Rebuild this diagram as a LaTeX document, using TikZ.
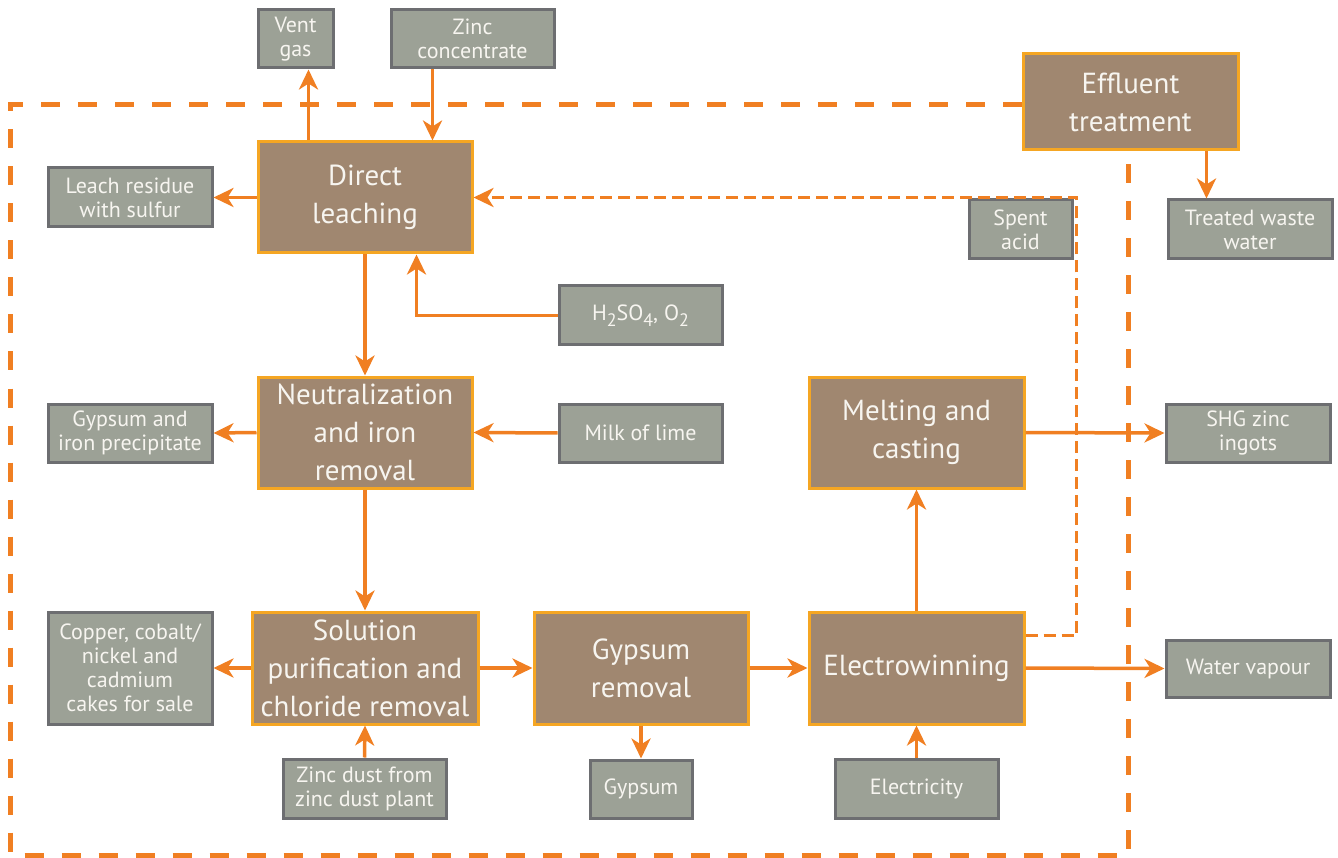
\documentclass[tikz,border=0pt]{standalone}
\usepackage{fontspec}
\setmainfont{PT Sans}
\usetikzlibrary{arrows.meta,calc}
\definecolor{orng}{HTML}{F07F22}
\definecolor{brn}{HTML}{A08770}
\definecolor{brnb}{HTML}{F5A623}
\definecolor{gfill}{HTML}{9CA196}
\definecolor{gbord}{HTML}{6D6E71}
\definecolor{txt}{HTML}{F7F5F0}
\newcommand{\lowsub}[1]{\raisebox{-6pt}{\fontsize{18}{18}\selectfont #1}}
\tikzset{
  gbox/.style={draw=gbord, fill=gfill, line width=3pt, inner sep=0pt, align=center,
    text=txt, font=\fontsize{22}{24}\selectfont},
  bbox/.style={draw=brnb, fill=brn, line width=3pt, inner sep=0pt, align=center,
    text=txt, font=\fontsize{29}{38}\selectfont},
  arr/.style={draw=orng, line width=3.5pt, -{Stealth[length=20pt,width=19pt,inset=6pt]}},
  bound/.style={draw=orng, line width=5pt, dash pattern=on 19pt off 18pt},
  spent/.style={draw=orng, line width=3.5pt, dash pattern=on 12pt off 6pt,
    -{Stealth[length=20pt,width=19pt,inset=6pt]}}
}
\begin{document}
\begin{tikzpicture}[x=1pt,y=-1pt]
\useasboundingbox (0,0) rectangle (1338,858);
% main process boxes
\node[bbox, minimum width=214pt, minimum height=111pt] (dl) at (365,197.5) {Direct\\leaching};
\node[bbox, minimum width=214pt, minimum height=111pt] (nr) at (365,432.5) {Neutralization\\and iron\\removal};
\node[bbox, minimum width=226pt, minimum height=112pt] (sp) at (365,668) {Solution\\purification and\\chloride removal};
\node[bbox, minimum width=214pt, minimum height=112pt] (gr) at (641,668) {Gypsum\\removal};
\node[bbox, minimum width=215pt, minimum height=112pt] (ew) at (916.5,668) {Electrowinning};
\node[bbox, minimum width=215pt, minimum height=111pt] (mc) at (916.5,432.5) {Melting and\\casting};
\node[bbox, minimum width=215pt, minimum height=96pt] (et) at (1130.5,102) {Effluent\\treatment};
% input / output boxes
\node[gbox, minimum width=75pt, minimum height=58pt] (vent) at (295.5,39) {Vent\\gas};
\node[gbox, minimum width=163pt, minimum height=58pt] (zc) at (472.5,39) {Zinc\\concentrate};
\node[gbox, minimum width=164pt, minimum height=59pt] (lr) at (130,197.5) {Leach residue\\with sulfur};
\node[gbox, minimum width=163pt, minimum height=59pt] (hs) at (640.5,315.5) {H\lowsub{2}SO\lowsub{4}, O\lowsub{2}};
\node[gbox, minimum width=164pt, minimum height=58pt] (gi) at (130,433) {Gypsum and\\iron precipitate};
\node[gbox, minimum width=163pt, minimum height=58pt] (ml) at (640.5,433) {Milk of lime};
\node[gbox, minimum width=103pt, minimum height=59pt] (sa) at (1020.5,229.5) {Spent\\acid};
\node[gbox, minimum width=164pt, minimum height=59pt] (tw) at (1250,229.5) {Treated waste\\water};
\node[gbox, minimum width=164pt, minimum height=58pt] (shg) at (1248,433) {SHG zinc\\ingots};
\node[gbox, minimum width=164pt, minimum height=112pt] (cu) at (130,668) {Copper, cobalt/\\nickel and\\cadmium\\cakes for sale};
\node[gbox, minimum width=163pt, minimum height=59pt] (zd) at (364.5,788.5) {Zinc dust from\\zinc dust plant};
\node[gbox, minimum width=102pt, minimum height=58pt] (gy) at (641,789) {Gypsum};
\node[gbox, minimum width=163pt, minimum height=59pt] (el) at (916.5,788.5) {Electricity};
\node[gbox, minimum width=164pt, minimum height=57pt] (wv) at (1248,668.5) {Water vapour};
% boundary
\coordinate (bl) at (10,855);
\coordinate (bt) at ([yshift=-3pt]et.west);
\coordinate (br) at ([xshift=-2pt]et.south);
\draw[bound] (bt) -| (bl) -| (br);
% helper coordinates
\coordinate (vx) at ([xshift=52pt]dl.north west);
\coordinate (zx) at ([xshift=-41pt]dl.north east);
\coordinate (hx) at ([xshift=160pt]dl.south west);
\coordinate (tx) at ([xshift=-33pt]et.south east);
\coordinate (ewo) at ([yshift=-25pt]ew.north east);
\coordinate (sax) at ([xshift=3pt]sa.east);
% connectors
\draw[arr] (vx) -- (vx |- vent.south);
\draw[arr] (zx |- zc.south) -- (zx);
\draw[arr] (dl.west) -- (lr.east);
\draw[arr] (hs.west) -| (hx);
\draw[arr] (dl.south) -- (nr.north);
\draw[arr] (nr.west) -- (gi.east);
\draw[arr] (ml.west) -- (nr.east);
\draw[arr] (nr.south) -- (sp.north);
\draw[arr] (sp.west) -- (cu.east);
\draw[arr] (zd.north) -- (sp.south);
\draw[arr] (sp.east) -- (gr.west);
\draw[arr] (gr.south) -- (gy.north);
\draw[arr] (gr.east) -- (ew.west);
\draw[arr] (el.north) -- (ew.south);
\draw[arr] (ew.north) -- (mc.south);
\draw[arr] (mc.east) -- (shg.west);
\draw[arr] (ew.east) -- (wv.west);
\draw[arr] (tx) -- (tx |- tw.north);
\draw[spent] (ewo) -| (sax |- dl.east) -- (dl.east);
\end{tikzpicture}
\end{document}
